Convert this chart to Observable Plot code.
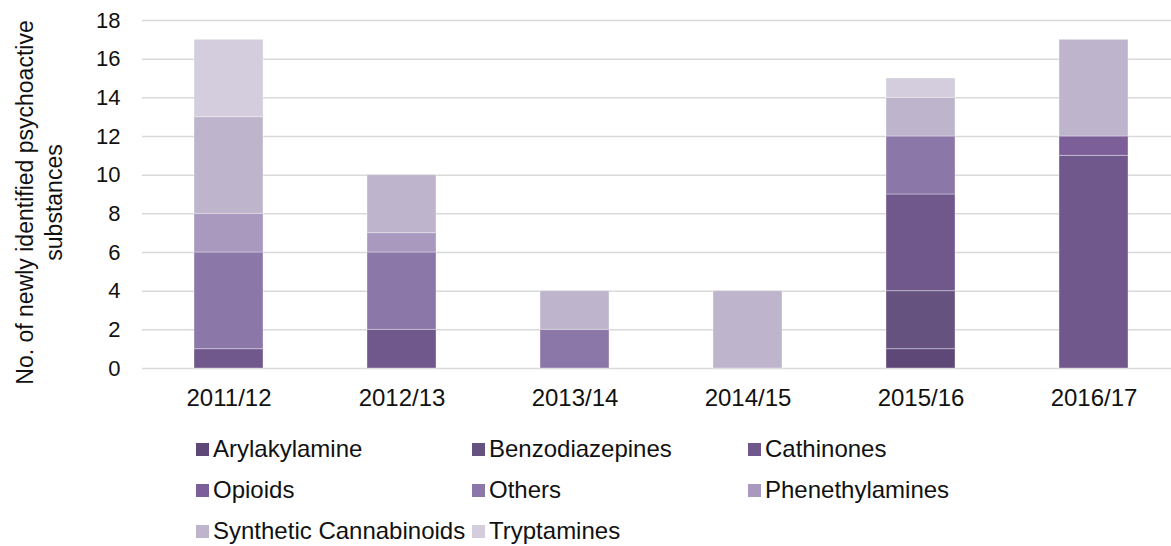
<!DOCTYPE html>
<html>
<head>
<meta charset="utf-8">
<script src="https://cdn.jsdelivr.net/npm/d3@7"></script>
<script src="https://cdn.jsdelivr.net/npm/@observablehq/plot@0.6"></script>
<style>
  html, body { margin: 0; padding: 0; background: #fff; }
  body { width: 1171px; height: 546px; overflow: hidden; position: relative; font-family: "Liberation Sans", Arial, sans-serif; }
  #chart { position: absolute; left: 0; top: 0; }
  #legend { position: absolute; left: 0; top: 0; width: 1171px; }
  .item { position: absolute; display: flex; align-items: center; font-size: 24px; color: #111; white-space: nowrap; height: 30px; }
  .sw { width: 13px; height: 13px; margin-right: 4px; }
</style>
</head>
<body>
<div id="chart"></div>
<div id="legend"></div>
<script>
const years = ["2011/12", "2012/13", "2013/14", "2014/15", "2015/16", "2016/17"];
const categories = ["Arylakylamine", "Benzodiazepines", "Cathinones", "Opioids", "Others", "Phenethylamines", "Synthetic Cannabinoids", "Tryptamines"];
const colors = ["#5d4878", "#66527f", "#70588c", "#7c5e98", "#8c77a9", "#a999be", "#beb4cc", "#d3cddd"];
// values per category, one per year
const Arylakylamine          = [0, 0, 0, 0, 1, 0];
const Benzodiazepines        = [0, 0, 0, 0, 3, 0];
const Cathinones             = [1, 2, 0, 0, 5, 11];
const Opioids                = [0, 0, 0, 0, 0, 1];
const Others                 = [5, 4, 2, 0, 3, 0];
const Phenethylamines        = [2, 1, 0, 0, 0, 0];
const SyntheticCannabinoids  = [5, 3, 2, 4, 2, 5];
const Tryptamines            = [4, 0, 0, 0, 1, 0];
const yTicks = [0, 2, 4, 6, 8, 10, 12, 14, 16, 18];
const yTitle = "No. of newly identified psychoactive\nsubstances";

const series = [Arylakylamine, Benzodiazepines, Cathinones, Opioids, Others, Phenethylamines, SyntheticCannabinoids, Tryptamines];
const data = [];
categories.forEach((c, i) => {
  years.forEach((y, j) => {
    if (series[i][j] > 0) data.push({year: y, category: c, value: series[i][j]});
  });
});

const plot = Plot.plot({
  width: 1171,
  height: 420,
  marginLeft: 142,
  marginRight: 0,
  marginTop: 20,
  marginBottom: 52,
  style: {fontFamily: "Liberation Sans, Arial, sans-serif", fontSize: "24px", color: "#111", background: "#fff"},
  x: {domain: years, range: [141, 1181], paddingInner: 0.6, paddingOuter: 0.3, label: null},
  y: {domain: [0, 18], label: null},
  color: {domain: categories, range: colors},
  marks: [
    Plot.ruleY(yTicks, {stroke: "#d9d9d9", strokeWidth: 1.5}),
    Plot.barY(data, {x: "year", y: "value", fill: "category", order: categories, stroke: "#ffffff", strokeOpacity: 0.35, strokeWidth: 1}),
    Plot.axisX({tickSize: 0, tickPadding: 20, fontSize: 24, label: null}),
    Plot.axisY({ticks: yTicks, tickSize: 0, tickPadding: 22, fontSize: 22, label: null}),
    Plot.text([yTitle], {frameAnchor: "left", rotate: -90, dx: -104, dy: 8, fontSize: 23, fill: "#111", lineHeight: 1.22, textAnchor: "middle", lineAnchor: "middle"})
  ]
});
document.getElementById("chart").appendChild(plot);

const legend = document.getElementById("legend");
const colX = [196, 472, 748];
const rowY = [434, 475, 516];
categories.forEach((c, i) => {
  const d = document.createElement("div");
  d.className = "item";
  d.style.left = colX[i % 3] + "px";
  d.style.top = rowY[Math.floor(i / 3)] + "px";
  const s = document.createElement("span");
  s.className = "sw";
  s.style.background = colors[i];
  const t = document.createElement("span");
  t.textContent = c;
  d.appendChild(s); d.appendChild(t);
  legend.appendChild(d);
});
</script>
</body>
</html>
